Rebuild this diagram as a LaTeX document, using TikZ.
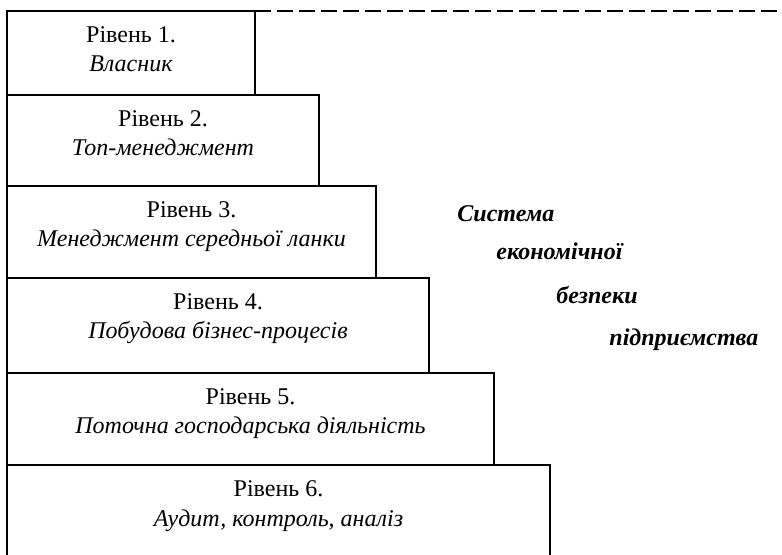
\documentclass[tikz,border=0pt]{standalone}
\usepackage{fontspec}
\setmainfont{Liberation Serif}
\usetikzlibrary{positioning}
\tikzset{
  levelbox/.style = {rectangle, draw=black, line width=1pt, inner sep=0pt,
    outer sep=0pt, anchor=north west},% prostokat poziomu
  leveltext/.style = {align=center, inner sep=0pt, anchor=base,
    font=\fontsize{12}{14.5}\selectfont},% podpis poziomu
  titletext/.style = {inner sep=0pt, anchor=base west,
    font=\fontsize{12}{14.5}\selectfont\bfseries\itshape},% tytul z prawej
  dashline/.style = {line width=1pt, dash pattern=on 7.8pt off 3.2pt}
}

\begin{document}
\begin{tikzpicture}[x=0.5pt,y=-0.5pt]
\useasboundingbox (0,0) rectangle (782,555);
\node [levelbox, minimum width=124pt, minimum height=42pt] (lvl1) at (7,11) {};
\node [levelbox, minimum width=156pt, minimum height=45.5pt] (lvl2) at (7,95) {};
\node [levelbox, minimum width=184.5pt, minimum height=46pt] (lvl3) at (7,186) {};
\node [levelbox, minimum width=211pt, minimum height=47.5pt] (lvl4) at (7,278) {};
\node [levelbox, minimum width=243.5pt, minimum height=46pt] (lvl5) at (7,373) {};
\node [levelbox, minimum width=271.5pt, minimum height=55pt] (lvl6) at (7,465) {};

% base = linia bazowa drugiego wiersza
\node [leveltext] (txt1) at ([yshift=-30.5pt]lvl1.north) {Рівень 1.\\\textit{Власник}};
\node [leveltext] (txt2) at ([yshift=-30.5pt]lvl2.north) {Рівень 2.\\\textit{Топ-менеджмент}};
\node [leveltext] (txt3) at ([yshift=-30.5pt]lvl3.north) {Рівень 3.\\\textit{Менеджмент середньої ланки}};
\node [leveltext] (txt4) at ([yshift=-30.5pt]lvl4.north) {Рівень 4.\\\textit{Побудова бізнес-процесів}};
\node [leveltext] (txt5) at ([yshift=-30.5pt]lvl5.north) {Рівень 5.\\\textit{Поточна господарська діяльність}};
\node [leveltext] (txt6) at ([yshift=-30.5pt]lvl6.north) {Рівень 6.\\\textit{Аудит, контроль, аналіз}};

\coordinate (dashend) at (782,11);
\draw [dashline] (lvl1.north east) -- (dashend);

\node [titletext] (sys1) at (457,222) {Система};
\node [titletext] (sys2) at (496,260) {економічної};
\node [titletext] (sys3) at (556,304) {безпеки};
\node [titletext] (sys4) at (609,346) {підприємства};
\end{tikzpicture}
\end{document}
